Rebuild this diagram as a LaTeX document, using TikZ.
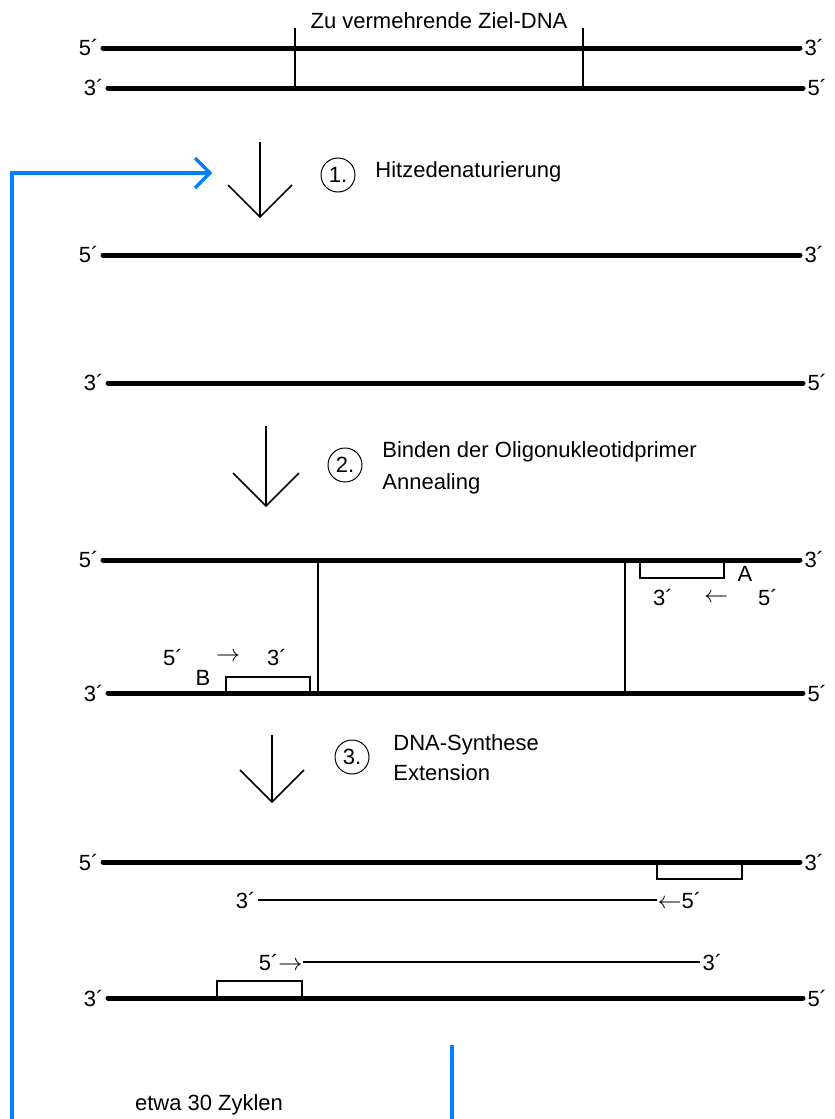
\documentclass[tikz,border=0pt]{standalone}
\usepackage{fontspec}
\setmainfont{Liberation Sans}
\definecolor{loopblue}{RGB}{0,128,255}
\newcommand{\linkspfeil}{{\fontsize{13}{13}\selectfont$\leftarrow$}}
\newcommand{\rechtspfeil}{{\fontsize{13}{13}\selectfont$\rightarrow$}}
\begin{document}
\begin{tikzpicture}[x=0.5pt,y=-0.5pt,
    strand/.style={line width=2.5pt, line cap=round},
    thinline/.style={line width=0.6pt},
    primer/.style={line width=0.7pt},
    wing/.style={line width=0.8pt},
    bigarrow/.style={line width=1.3pt},
    loopline/.style={line width=1.6pt, draw=loopblue},
    lbl/.style={inner sep=1pt, font=\fontsize{11}{13}\selectfont},
    txt/.style={anchor=west, inner sep=0pt, font=\fontsize{11}{13}\selectfont},
    stepnum/.style={circle, draw, line width=0.5pt, inner sep=0pt, minimum size=17pt, font=\fontsize{11}{12}\selectfont}]
    \useasboundingbox (0,0) rectangle (835,1119);

    % Ausgangs-DNA
    \draw[strand] (103,48) node[lbl,left] (a1) {5´} -- (800,48) node[lbl,right] (a2) {3´};
    \draw[strand] (108,88) node[lbl,left] (a3) {3´} -- (803,88) node[lbl,right] (a4) {5´};
    \draw[thinline] (295,28) -- (295,88);
    \draw[thinline] (583,28) -- (583,88);
    \node[lbl] (ziel) at (439,21) {Zu vermehrende Ziel-DNA};

    % Zyklus
    \coordinate (loopstart) at (12,1119);
    \coordinate (loopin) at (210,173);
    \draw[loopline] (loopstart) |- (loopin);
    \draw[loopline] (195,158) -- (loopin) -- (195,188);
    \draw[loopline] (452,1045) -- (452,1119);
    \node[lbl] (zyklen) at (209,1105) {etwa 30 Zyklen};

    % 1. Hitzedenaturierung
    \draw[bigarrow] (260,142) -- (260,217);
    \draw[wing] (228,185) -- (260,217) -- (292,185);
    \node[stepnum] (n1) at (338,175) {1.};
    \node[txt] (t1) at (375,172) {Hitzedenaturierung};

    \draw[strand] (103,255) node[lbl,left] (b1) {5´} -- (800,255) node[lbl,right] (b2) {3´};
    \draw[strand] (108,383) node[lbl,left] (b3) {3´} -- (803,383) node[lbl,right] (b4) {5´};

    % 2. Annealing
    \draw[bigarrow] (266,426) -- (266,506);
    \draw[wing] (233,473) -- (266,506) -- (299,473);
    \node[stepnum] (n2) at (345,465) {2.};
    \node[txt] (t2) at (382,452) {Binden der Oligonukleotidprimer};
    \node[txt] (t2b) at (382,484) {Annealing};

    \draw[strand] (103,560) node[lbl,left] (c1) {5´} -- (800,560) node[lbl,right] (c2) {3´};
    \draw[strand] (108,693) node[lbl,left] (c3) {3´} -- (803,693) node[lbl,right] (c4) {5´};
    \draw[thinline] (318,560) -- (318,693);
    \draw[thinline] (625,560) -- (625,693);
    \draw[primer] (640,561) rectangle (724,578);
    \node[lbl] (pa) at (745,574) {A};
    \node[lbl] (pa1) at (663,598) {3´};
    \node[lbl] (pa2) at (716,598) {\linkspfeil};
    \node[lbl] (pa3) at (768,598) {5´};
    \draw[primer] (226,692) rectangle (310,677);
    \node[lbl] (pb) at (203,678) {B};
    \node[lbl] (pb1) at (173,657) {5´};
    \node[lbl] (pb2) at (228,657) {\rechtspfeil};
    \node[lbl] (pb3) at (277,657) {3´};

    % 3. Extension
    \draw[bigarrow] (272,735) -- (272,802);
    \draw[wing] (240,770) -- (272,802) -- (304,770);
    \node[stepnum] (n3) at (352,757) {3.};
    \node[txt] (t3) at (393,745) {DNA-Synthese};
    \node[txt] (t3b) at (393,773) {Extension};

    \draw[strand] (103,862) node[lbl,left] (d1) {5´} -- (800,862) node[lbl,right] (d2) {3´};
    \draw[primer] (657,863) rectangle (742,879);
    \draw[thinline] (258,900) node[lbl,left] (d3) {3´} -- (657,900) node[lbl,right,inner sep=0pt] (d4) {\linkspfeil5´};
    \draw[thinline] (303,962) node[lbl,left,inner sep=0pt] (e3) {5´\rechtspfeil} -- (700,962) node[lbl,right] (e4) {3´};
    \draw[strand] (108,998) node[lbl,left] (e1) {3´} -- (803,998) node[lbl,right] (e2) {5´};
    \draw[primer] (217,981) rectangle (302,997);
\end{tikzpicture}
\end{document}
